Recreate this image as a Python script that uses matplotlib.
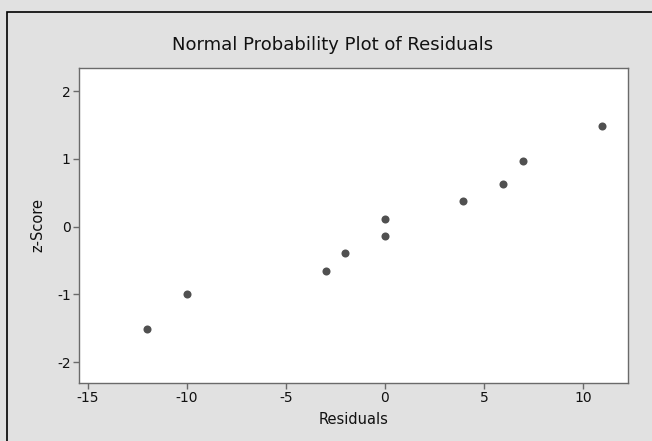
import matplotlib.pyplot as plt
from matplotlib.patches import Rectangle

residuals = [-12, -10, -3, -2, 0, 0, 3.95, 5.95, 6.95, 10.95]
z_scores = [-1.52, -0.99, -0.655, -0.39, -0.135, 0.115, 0.37, 0.635, 0.97, 1.49]
x_ticks = [-15, -10, -5, 0, 5, 10]
y_ticks = [-2, -1, 0, 1, 2]

plt.rcParams['axes.unicode_minus'] = False

W, H = 652, 441
fig = plt.figure(figsize=(W / 100, H / 100), dpi=100)
fig.patch.set_facecolor('#e1e1e1')

# outer frame (black line at left/top, runs off the image at right/bottom)
fig.patches.append(Rectangle((7 / W, -0.1), 1.2, 1.1 - 12 / H,
                             transform=fig.transFigure, fill=False,
                             edgecolor='black', linewidth=1.2))

# axes box in pixels: left 79, right 628, top 68, bottom 383
ax = fig.add_axes([79 / W, 1 - 383 / H, (628 - 79) / W, (383 - 68) / H])
ax.set_facecolor('white')

ax.plot(residuals, z_scores, 'o', color='#505050', markersize=5.8, markeredgewidth=0)

ax.set_xlim(-15.45, 12.27)
ax.set_ylim(-2.31, 2.34)
ax.set_xticks(x_ticks)
ax.set_yticks(y_ticks)

for s in ax.spines.values():
    s.set_color('#6a6a6a')
    s.set_linewidth(1.0)
ax.tick_params(direction='out', length=4, width=1, color='#6a6a6a',
               labelsize=10, labelcolor='#111111', pad=2)

ax.set_xlabel('Residuals', fontsize=10.5, color='#111111', labelpad=5)
ax.set_ylabel('z-Score', fontsize=10.5, color='#111111', labelpad=8)
fig.text(333 / W, 1 - 45 / H, 'Normal Probability Plot of Residuals',
         ha='center', va='center', fontsize=13, color='#111111')

fig.savefig('out.png', dpi=100, facecolor=fig.get_facecolor())
